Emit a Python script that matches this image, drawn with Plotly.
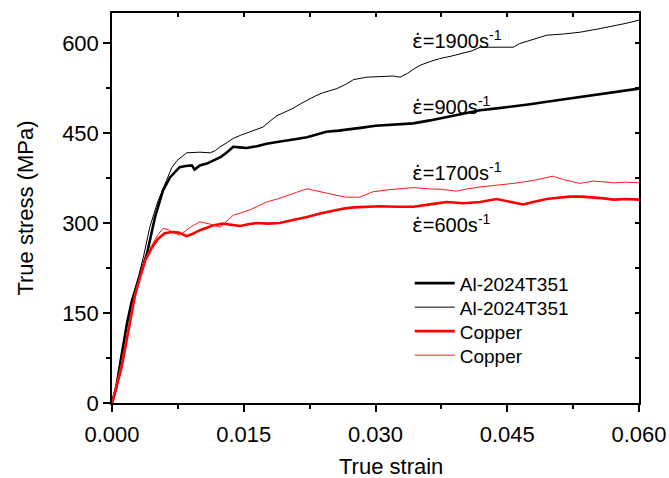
import plotly.graph_objects as go

# ---- data ----
al900_strain = [0, 0.0005, 0.0011, 0.0017, 0.0022, 0.0028, 0.0034, 0.0040, 0.0049, 0.0058, 0.0066,
                0.0072, 0.0077, 0.0084, 0.0091, 0.0094, 0.0100, 0.0108, 0.0115, 0.0124, 0.0131,
                0.0138, 0.0145, 0.0153, 0.0165, 0.0176, 0.0188, 0.0199, 0.0210, 0.0222, 0.0233,
                0.0244, 0.0258, 0.0271, 0.0285, 0.0300, 0.0314, 0.0328, 0.0343, 0.0362, 0.0381,
                0.0400, 0.0419, 0.0438, 0.0457, 0.0476, 0.0495, 0.0514, 0.0533, 0.0552, 0.0571,
                0.0586, 0.0600]
al900_stress = [0, 27, 80, 132, 166, 195, 221, 250, 310, 354, 376,
                386, 393, 395, 396, 389, 396, 399, 404, 410, 418,
                427, 426, 425, 428, 432, 435, 438, 440, 443, 447,
                452, 454, 456, 459, 462, 463, 464, 466, 471, 477,
                482, 488, 491, 494, 498, 502, 506, 510, 514, 518,
                521, 524]

al1900_strain = [0, 0.0005, 0.0011, 0.0017, 0.0022, 0.0030, 0.0036, 0.0043, 0.0052, 0.0062, 0.0068,
                 0.0074, 0.0080, 0.0085, 0.0100, 0.0112, 0.0118, 0.0123, 0.0130, 0.0138, 0.0146,
                 0.0153, 0.0162, 0.0172, 0.0180, 0.0188, 0.0197, 0.0206, 0.0215, 0.0225, 0.0232,
                 0.0240, 0.0248, 0.0256, 0.0266, 0.0275, 0.0290, 0.0309, 0.0320, 0.0328, 0.0336,
                 0.0344, 0.0351, 0.0362, 0.0373, 0.0386, 0.0400, 0.0410, 0.0419, 0.0438, 0.0457,
                 0.0464, 0.0480, 0.0495, 0.0514, 0.0533, 0.0552, 0.0571, 0.0586, 0.0600]
al1900_stress = [0, 30, 85, 135, 170, 210, 245, 293, 335, 371, 392,
                 404, 412, 417, 418, 417, 421, 427, 433, 441, 446,
                 450, 454, 460, 470, 479, 485, 491, 499, 507, 512,
                 517, 521, 524, 531, 539, 543, 544, 545, 543, 549,
                 557, 563, 569, 574, 578, 583, 587, 593, 593, 593,
                 599, 606, 613, 615, 618, 623, 628, 633, 638]

cu600_strain = [0, 0.0003, 0.0011, 0.0019, 0.0026, 0.0032, 0.0038, 0.0045, 0.0052, 0.0060, 0.0068,
                0.0076, 0.0085, 0.0092, 0.0100, 0.0108, 0.0115, 0.0126, 0.0136, 0.0146, 0.0155,
                0.0165, 0.0178, 0.0191, 0.0206, 0.0222, 0.0237, 0.0252, 0.0264, 0.0275, 0.0290,
                0.0305, 0.0324, 0.0343, 0.0362, 0.0381, 0.0400, 0.0419, 0.0438, 0.0453, 0.0468,
                0.0482, 0.0495, 0.0508, 0.0521, 0.0535, 0.0548, 0.0560, 0.0571, 0.0585, 0.0600]
cu600_stress = [0, 15, 60, 122, 178, 210, 238, 258, 273, 283, 285,
                284, 278, 282, 288, 292, 296, 299, 297, 295, 298,
                300, 299, 300, 305, 310, 316, 321, 324, 326, 327,
                328, 327, 327, 331, 335, 333, 335, 340, 336, 331,
                336, 340, 342, 344, 344, 343, 341, 339, 340, 339]

cu1700_strain = [0, 0.0003, 0.0011, 0.0019, 0.0026, 0.0032, 0.0038, 0.0045, 0.0052, 0.0058, 0.0064,
                 0.0070, 0.0077, 0.0083, 0.0089, 0.0100, 0.0106, 0.0112, 0.0123, 0.0130, 0.0138,
                 0.0147, 0.0157, 0.0166, 0.0176, 0.0188, 0.0199, 0.0210, 0.0222, 0.0233, 0.0244,
                 0.0256, 0.0267, 0.0282, 0.0297, 0.0312, 0.0328, 0.0343, 0.0360, 0.0376, 0.0392,
                 0.0405, 0.0419, 0.0438, 0.0457, 0.0480, 0.0502, 0.0515, 0.0533, 0.0548, 0.0560,
                 0.0571, 0.0585, 0.0600]
cu1700_stress = [0, 20, 68, 130, 182, 212, 240, 262, 280, 291, 289,
                 284, 280, 286, 293, 302, 300, 298, 293, 303, 313,
                 317, 322, 328, 335, 340, 346, 351, 357, 354, 350,
                 346, 343, 343, 352, 355, 357, 359, 357, 356, 353,
                 357, 360, 363, 366, 371, 378, 372, 366, 370, 368,
                 367, 368, 367]

series_names = ["Al-2024T351", "Al-2024T351", "Copper", "Copper"]
series_x = [al900_strain, al1900_strain, cu600_strain, cu1700_strain]
series_y = [al900_stress, al1900_stress, cu600_stress, cu1700_stress]
series_colors = ["black", "black", "#ff0000", "#ff1a1a"]
series_widths = [2.6, 1.0, 2.6, 1.0]

rate_labels = ["1900", "900", "1700", "600"]
label_strain = [0.03395, 0.03395, 0.03395, 0.03395]
label_stress = [605, 495, 385, 298]

FONT = "Liberation Sans, Arial, sans-serif"

fig = go.Figure()
legend_ids = ["legend", "legend2", "legend3", "legend4"]
for name, xs, ys, col, w, lg in zip(series_names, series_x, series_y, series_colors,
                                      series_widths, legend_ids):
    fig.add_trace(go.Scatter(x=xs, y=ys, mode="lines", name=name, legend=lg,
                             line=dict(color=col, width=w)))

EPS_DOT = '<span style="font-family:DejaVu Sans">\u03b5\u0307</span>'
for r, xv, yv in zip(rate_labels, label_strain, label_stress):
    fig.add_annotation(x=xv, y=yv, xref="x", yref="y", xanchor="left", yanchor="middle",
                       text=EPS_DOT + "=" + r + "s<sup>-1</sup>", showarrow=False,
                       font=dict(family=FONT, size=20, color="black"))

# x-axis title placed as annotation (it sits right of plot centre in the reference)
fig.add_annotation(x=0.5294, y=-0.162, xref="paper", yref="paper", xanchor="center",
                   yanchor="middle", text="True strain", showarrow=False,
                   font=dict(family=FONT, size=22, color="black"))

legend_tops = [0.3556, 0.2941, 0.2326, 0.1710]
leg_common = dict(x=0.565, xanchor="left", yanchor="top", bgcolor="rgba(0,0,0,0)",
                  font=dict(family=FONT, size=19), itemwidth=40, tracegroupgap=0)
legend_layout = {lg: dict(y=yt, **leg_common) for lg, yt in zip(legend_ids, legend_tops)}

fig.update_layout(
    width=669, height=478,
    margin=dict(l=112, r=30, t=13, b=75, autoexpand=False),
    paper_bgcolor="white", plot_bgcolor="white",
    font=dict(family=FONT, color="black"),
    showlegend=True,
    **legend_layout,
    xaxis=dict(range=[0, 0.060], dtick=0.015, tickformat=".3f", automargin=False,
               showline=True, linecolor="black", linewidth=1.5, mirror=True,
               ticks="outside", ticklen=7, tickwidth=1.5, tickcolor="black",
               minor=dict(dtick=0.0075, ticks="outside", ticklen=4, tickwidth=1.5, tickcolor="black"),
               showgrid=False, zeroline=False, ticklabelstandoff=4,
               tickfont=dict(family=FONT, size=22)),
    yaxis=dict(range=[0, 650], dtick=150, automargin=False,
               showline=True, linecolor="black", linewidth=1.5, mirror=True,
               ticks="outside", ticklen=7, tickwidth=1.5, tickcolor="black",
               minor=dict(dtick=75, ticks="outside", ticklen=4, tickwidth=1.5, tickcolor="black"),
               showgrid=False, zeroline=False,
               tickfont=dict(family=FONT, size=22),
               title=dict(text="True stress (MPa)", font=dict(family=FONT, size=22), standoff=22)),
    xaxis2=dict(range=[0, 0.060], overlaying="x", side="top", dtick=0.0075, automargin=False,
                ticks="inside", ticklen=4, tickwidth=1.5, tickcolor="black",
                showticklabels=False, showgrid=False, zeroline=False, showline=False),
    yaxis2=dict(range=[0, 650], overlaying="y", side="right", dtick=75, automargin=False,
                ticks="inside", ticklen=4, tickwidth=1.5, tickcolor="black",
                showticklabels=False, showgrid=False, zeroline=False, showline=False),
)
# invisible trace to activate the mirrored inner-tick axes
fig.add_trace(go.Scatter(x=[0], y=[0], xaxis="x2", yaxis="y2", mode="markers",
                         marker=dict(opacity=0), showlegend=False, hoverinfo="skip"))

fig.write_html("out.html")
